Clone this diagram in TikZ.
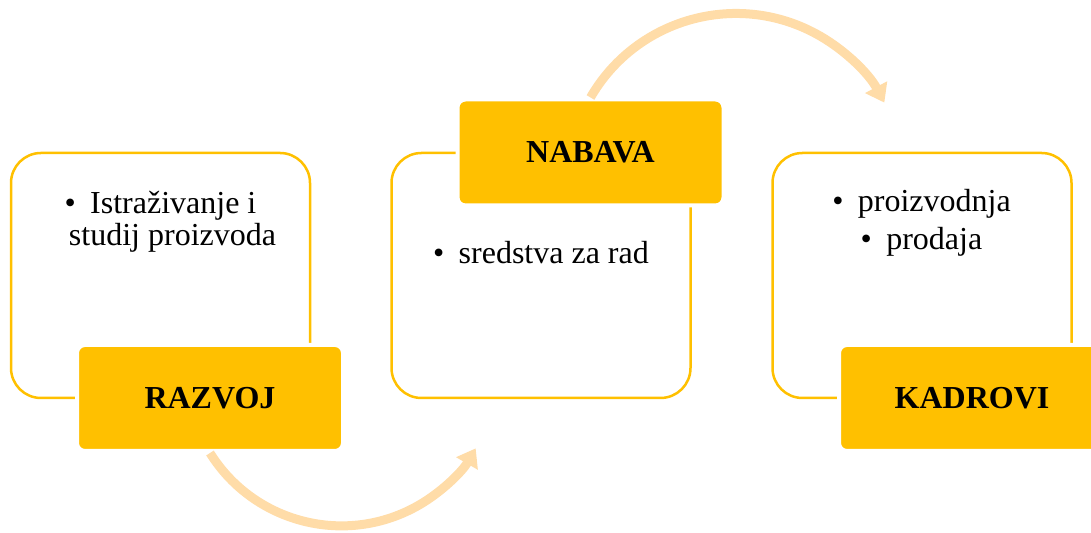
\documentclass[tikz,border=0pt]{standalone}
\usepackage{fontspec}
\setmainfont{Liberation Serif}
\usetikzlibrary{arrows.meta}
\definecolor{gold}{RGB}{255,192,0}
\definecolor{peach}{RGB}{255,220,168}
\tikzset{
	frame/.style={draw=gold, line width=1.25pt, rounded corners=15pt, minimum width=149.5pt, minimum height=122.5pt},
	tag/.style={fill=gold, draw=white, line width=2pt, rounded corners=4pt, minimum width=133pt, minimum height=53pt, font=\fontsize{16}{16}\bfseries},
	item/.style={anchor=base, align=center, font=\fontsize{16}{16}\selectfont},
	flow/.style={draw=peach, line width=4.5pt, -{Triangle[length=8.75pt,width=12pt]}}
}
\begin{document}
\begin{tikzpicture}[x=0.5pt, y=0.5pt, line join=round]
				\useasboundingbox (0,0) rectangle (1091,533);
				\node[frame] (fr1) at (160.5,257.5) {};
				\node[frame] (fr2) at (541,257.5) {};
				\node[frame] (fr3) at (922,257.5) {};
				\node[tag] (raz) at (210,135) {RAZVOJ};
				\node[tag] (nab) at (590.5,380.5) {NABAVA};
				\node[tag] (kad) at (972,135) {KADROVI};
				\node[item] (t1) at (160.5,287) {\textbullet\hspace{.45em}Istraživanje i\\\hspace*{12pt}studij proizvoda};
				\node[item] (t2) at (541,269) {\textbullet\hspace{.45em}sredstva za rad};
				\node[item] (t3) at (921.5,283) {\textbullet\hspace{.45em}proizvodnja\\[3pt]\textbullet\hspace{.45em}prodaja};
				\draw[flow] (raz.south) arc[start angle=212, end angle=330, radius=155];
				\draw[flow] (nab.north) arc[start angle=150, end angle=28, radius=168];
			\end{tikzpicture}
\end{document}
